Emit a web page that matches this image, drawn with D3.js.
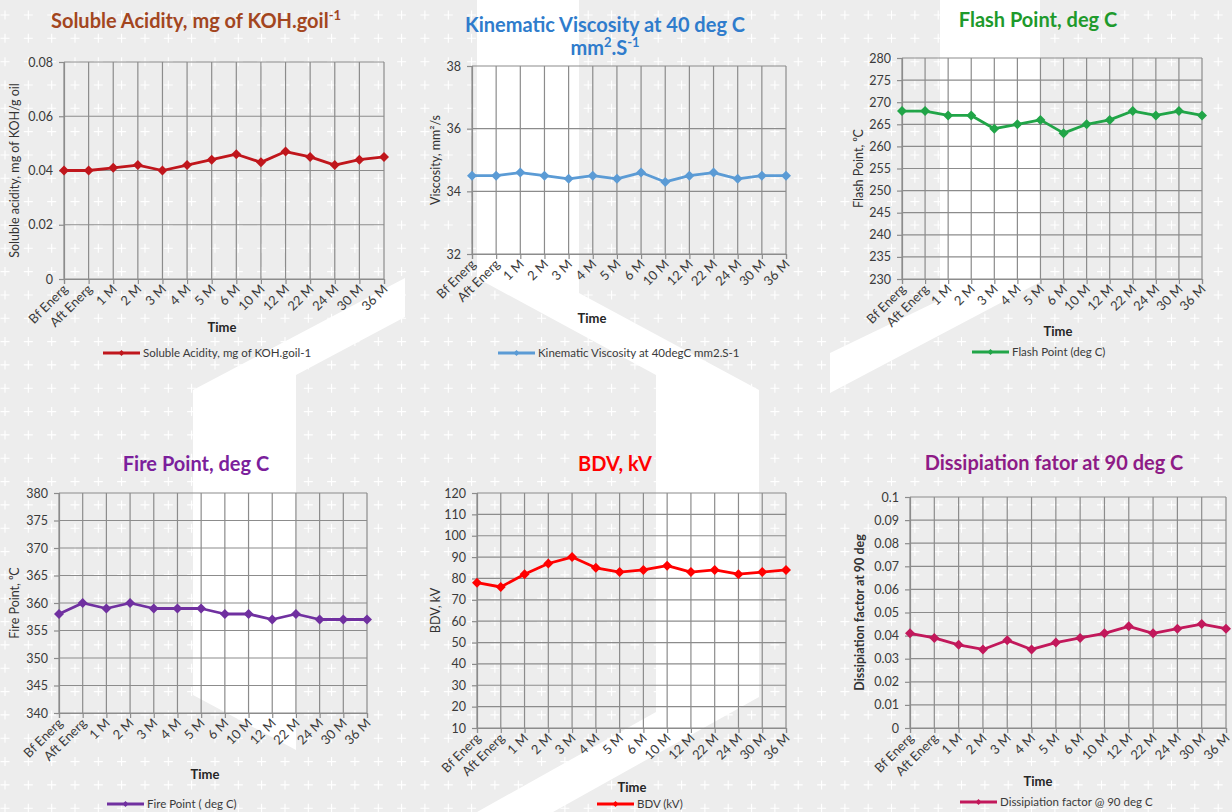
<!DOCTYPE html>
<html>
<head>
<meta charset="utf-8">
<script src="https://cdn.jsdelivr.net/npm/d3@7"></script>
<style>
  html, body { margin: 0; padding: 0; background: #ededed; }
  svg { display: block; font-family: Lato, "Open Sans", "DejaVu Sans", sans-serif; }
</style>
</head>
<body>
<svg id="chart" width="1232" height="812"></svg>
<script>
// ---------------- DATA ----------------
const categories = ["Bf Energ", "Aft Energ", "1 M", "2 M", "3 M", "4 M", "5 M", "6 M", "10 M", "12 M", "22 M", "24 M", "30 M", "36 M"];

const acidityValues     = [0.040, 0.040, 0.041, 0.042, 0.040, 0.042, 0.044, 0.046, 0.043, 0.047, 0.045, 0.042, 0.044, 0.045];
const viscosityValues   = [34.5, 34.5, 34.6, 34.5, 34.4, 34.5, 34.4, 34.6, 34.3, 34.5, 34.6, 34.4, 34.5, 34.5];
const flashValues       = [268, 268, 267, 267, 264, 265, 266, 263, 265, 266, 268, 267, 268, 267];
const fireValues        = [358, 360, 359, 360, 359, 359, 359, 358, 358, 357, 358, 357, 357, 357];
const bdvValues         = [78, 76, 82, 87, 90, 85, 83, 84, 86, 83, 84, 82, 83, 84];
const dissipationValues = [0.041, 0.039, 0.036, 0.034, 0.038, 0.034, 0.037, 0.039, 0.041, 0.044, 0.041, 0.043, 0.045, 0.043];

const acidityTicks     = [0, 0.02, 0.04, 0.06, 0.08];
const viscosityTicks   = [32, 34, 36, 38];
const flashTicks       = [230, 235, 240, 245, 250, 255, 260, 265, 270, 275, 280];
const fireTicks        = [340, 345, 350, 355, 360, 365, 370, 375, 380];
const bdvTicks         = [10, 20, 30, 40, 50, 60, 70, 80, 90, 100, 110, 120];
const dissipationTicks = [0, 0.01, 0.02, 0.03, 0.04, 0.05, 0.06, 0.07, 0.08, 0.09, 0.1];

const legendLabels = [
  "Soluble Acidity, mg of KOH.goil-1",
  "Kinematic Viscosity at 40degC mm2.S-1",
  "Flash Point (deg C)",
  "Fire Point ( deg C)",
  "BDV (kV)",
  "Dissipiation factor @ 90 deg C"
];
const yAxisLabels = [
  "Soluble acidity, mg of KOH/g oil",
  "Viscosity, mm²/s",
  "Flash Point, ⁰C",
  "Fire Point, ⁰C",
  "BDV, kV",
  "Dissipiation factor at 90 deg"
];

// ---------------- LAYOUT ----------------
const svg = d3.select("#chart");
const W = 1232, H = 812;

// background
svg.append("rect").attr("width", W).attr("height", H).attr("fill", "#ededed");
let plusPath = "";
const step = 23.33;
for (let px = 5; px < W + 5; px += step) {
  for (let py = 15; py < H + 5; py += step) {
    plusPath += `M${(px - 4.5).toFixed(1)},${py.toFixed(1)}h9M${px.toFixed(1)},${(py - 4.5).toFixed(1)}v9`;
  }
}
svg.append("path").attr("d", plusPath).attr("stroke", "#ffffff").attr("stroke-width", 1.1).attr("fill", "none");

const whiteShapes = [
  [[405,278],[405,317],[296,375],[296,750],[193,695],[193,390]],
  [[477,0],[579,0],[579,293],[759,390],[759,697],[553,812],[477,812],[656,712],[656,375],[477,278]],
  [[940,0],[1040,0],[1040,282],[830,393],[830,353],[940,300]]
];
svg.selectAll("polygon.bgshape").data(whiteShapes).join("polygon")
  .attr("class", "bgshape")
  .attr("points", d => d.map(p => p.join(",")).join(" "))
  .attr("fill", "#ffffff");

const charts = [
  { values: acidityValues, ticks: acidityTicks, box: [64, 384, 62, 279],
    line: "#c0161c", titleColor: "#a3461f",
    title: [[{t: "Soluble Acidity, mg of KOH.goil"}, {t: "-1", sup: true}]], titleX: 196, titleY: [28],
    ylabX: 15, ylabBold: false, timeX: 222, timeY: 332, legX: 103, legY: 353 },
  { values: viscosityValues, ticks: viscosityTicks, box: [472, 786, 66, 254],
    line: "#5b9bd5", titleColor: "#2f7ccc",
    title: [[{t: "Kinematic Viscosity at 40 deg C"}], [{t: "mm"}, {t: "2", sup: true}, {t: ".S"}, {t: "-1", sup: true}]],
    titleX: 605, titleY: [32, 55],
    ylabX: 436, ylabBold: false, timeX: 592, timeY: 323, legX: 498, legY: 353 },
  { values: flashValues, ticks: flashTicks, box: [902, 1202, 58, 279],
    line: "#21a548", titleColor: "#1e9a2c",
    title: [[{t: "Flash Point, deg C"}]], titleX: 1038, titleY: [27],
    ylabX: 859, ylabBold: false, timeX: 1058, timeY: 336, legX: 972, legY: 352 },
  { values: fireValues, ticks: fireTicks, box: [59, 367, 493, 713],
    line: "#7030a0", titleColor: "#7b1f9c",
    title: [[{t: "Fire Point, deg C"}]], titleX: 196, titleY: [471],
    ylabX: 15, ylabBold: false, timeX: 205, timeY: 779, legX: 107, legY: 804 },
  { values: bdvValues, ticks: bdvTicks, box: [477, 786, 493, 728],
    line: "#ff0000", titleColor: "#ff0000",
    title: [[{t: "BDV, kV"}]], titleX: 615, titleY: [471],
    ylabX: 436, ylabBold: false, timeX: 632, timeY: 792, legX: 597, legY: 804 },
  { values: dissipationValues, ticks: dissipationTicks, box: [910, 1226, 497, 728],
    line: "#c2185b", titleColor: "#8e1b86",
    title: [[{t: "Dissipiation fator at 90 deg C"}]], titleX: 1054, titleY: [470],
    ylabX: 860, ylabBold: true, timeX: 1038, timeY: 786, legX: 960, legY: 802 }
];

const gridColor = "#8c8c8c";
const diamond = size => d3.symbol(d3.symbolSquare, size);

charts.forEach((c, ci) => {
  const [x0, x1, y0, y1] = c.box;
  const x = d3.scalePoint().domain(categories).range([x0, x1]).padding(0);
  const y = d3.scaleLinear().domain([c.ticks[0], c.ticks[c.ticks.length - 1]]).range([y1, y0]);
  const g = svg.append("g");

  // gridlines
  g.append("g").selectAll("line").data(c.ticks).join("line")
    .attr("x1", x0).attr("x2", x1)
    .attr("y1", d => y(d)).attr("y2", d => y(d))
    .attr("stroke", gridColor).attr("stroke-width", 1.2);
  g.append("g").selectAll("line").data(categories).join("line")
    .attr("x1", d => x(d)).attr("x2", d => x(d))
    .attr("y1", y0).attr("y2", y1)
    .attr("stroke", gridColor).attr("stroke-width", 1.2);

  // y axis
  const ya = g.append("g").attr("transform", `translate(${x0},0)`)
    .call(d3.axisLeft(y).tickValues(c.ticks).tickSize(5).tickPadding(6).tickFormat(d => String(d)));
  ya.selectAll("path,line").attr("stroke", gridColor).attr("stroke-width", 1.2);
  ya.selectAll("text").attr("fill", "#3a3a3a").style("font-size", "12.5px")
    .style("font-family", "Lato, 'Open Sans', sans-serif");

  // x axis
  const xa = g.append("g").attr("transform", `translate(0,${y1})`)
    .call(d3.axisBottom(x).tickSize(5));
  xa.selectAll("path,line").attr("stroke", gridColor).attr("stroke-width", 1.2);
  xa.selectAll("text")
    .attr("x", 0).attr("y", 0).attr("dy", 0)
    .attr("transform", "translate(4,11) rotate(-45)")
    .style("text-anchor", "end")
    .attr("fill", "#3a3a3a").style("font-size", "13px")
    .style("font-family", "Lato, 'Open Sans', sans-serif");

  // line + markers
  const lineGen = d3.line().x((d, i) => x(categories[i])).y(d => y(d));
  g.append("path").datum(c.values)
    .attr("d", lineGen).attr("fill", "none")
    .attr("stroke", c.line).attr("stroke-width", 2.8).attr("stroke-linejoin", "round");
  g.append("g").selectAll("path").data(c.values).join("path")
    .attr("d", diamond(50)())
    .attr("transform", (d, i) => `translate(${x(categories[i])},${y(d)}) rotate(45)`)
    .attr("fill", c.line);

  // title
  const t = svg.append("text").attr("text-anchor", "middle")
    .attr("fill", c.titleColor).style("font-weight", "bold").style("font-size", "20px");
  c.title.forEach((lineSegs, li) => {
    let prevSup = false;
    lineSegs.forEach((seg, si) => {
      const ts = t.append("tspan").text(seg.t);
      if (si === 0) ts.attr("x", c.titleX).attr("y", c.titleY[li]);
      if (seg.sup) { ts.attr("dy", -8).style("font-size", "13px"); prevSup = true; }
      else if (prevSup) { ts.attr("dy", 8); prevSup = false; }
    });
  });

  // y axis label
  svg.append("text")
    .attr("transform", `translate(${c.ylabX},${(y0 + y1) / 2}) rotate(-90)`)
    .attr("text-anchor", "middle").attr("dy", "0.35em")
    .attr("fill", "#333").style("font-size", "12.5px")
    .style("font-weight", c.ylabBold ? "bold" : "normal")
    .text(yAxisLabels[ci]);

  // x axis title
  svg.append("text").attr("x", c.timeX).attr("y", c.timeY)
    .attr("text-anchor", "middle").attr("fill", "#262626")
    .style("font-size", "13px").style("font-weight", "bold").text("Time");

  // legend
  const lg = svg.append("g").attr("transform", `translate(${c.legX},${c.legY})`);
  lg.append("line").attr("x1", 0).attr("x2", 37).attr("y1", 0).attr("y2", 0)
    .attr("stroke", c.line).attr("stroke-width", 2.8);
  lg.append("path").attr("d", diamond(18)()).attr("transform", "translate(18.5,0) rotate(45)").attr("fill", c.line);
  lg.append("text").attr("x", 40).attr("y", 0).attr("dy", "0.35em")
    .attr("fill", "#3a3a3a").style("font-size", "11.5px").text(legendLabels[ci]);
});
</script>
</body>
</html>
